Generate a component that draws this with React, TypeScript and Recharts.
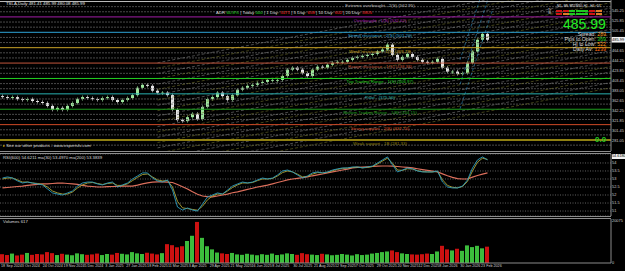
import React from 'react';
import { ComposedChart, Bar, Line, XAxis, YAxis, ReferenceLine, CartesianGrid, Cell } from 'recharts';

const FONT = '"Liberation Sans", Arial, sans-serif';

// closing prices, one bar per ~2.5 sessions
const closes = [
  369, 367, 369, 365, 363, 365, 361, 359, 357, 351,
  343, 347, 343, 351, 357, 365, 369, 367, 365, 363,
  367, 369, 363, 359, 363, 367, 373, 388, 394, 392,
  382, 378, 378, 373, 343, 322, 320, 328, 335, 324,
  349, 365, 369, 378, 371, 363, 373, 384, 388, 392,
  394, 398, 400, 404, 404, 404, 412, 425, 429, 425,
  418, 412, 425, 431, 429, 435, 439, 441, 441, 445,
  449, 451, 453, 455, 457, 462, 466, 476, 455, 445,
  451, 457, 451, 445, 441, 439, 441, 447, 429, 421,
  421, 416, 418, 439, 462, 486, 498, 486,
];
const FIRST_OPEN = 371;

// oscillator pane
const fastLine = [
  53.06, 53.13, 53.06, 52.88, 52.75, 52.81, 52.75, 52.69, 52.63, 52.38,
  52.13, 52.06, 52.0, 52.13, 52.25, 52.56, 52.75, 52.81, 52.81, 52.69,
  52.63, 52.75, 52.81, 52.5, 52.63, 52.75, 53.0, 53.19, 53.38, 53.38,
  53.06, 52.88, 52.81, 52.94, 52.31, 51.25, 51.06, 51.19, 51.06, 51.0,
  51.44, 51.88, 52.0, 52.13, 52.06, 52.31, 52.56, 52.69, 52.81, 52.75,
  52.81, 52.94, 53.06, 53.0, 53.06, 53.25, 53.5, 53.56, 53.44, 53.25,
  53.06, 53.19, 53.38, 53.44, 53.38, 53.44, 53.56, 53.63, 53.69, 53.69,
  53.75, 53.75, 53.69, 53.75, 53.81, 54.0, 54.19, 54.38, 53.88, 53.44,
  53.56, 53.69, 53.63, 53.5, 53.44, 53.44, 53.44, 53.5, 52.81, 52.5,
  52.44, 52.44, 52.56, 52.94, 53.69, 54.19, 54.38, 54.19,
];
const signalLine = [
  53.0, 53.06, 53.06, 52.94, 52.81, 52.81, 52.75, 52.72, 52.66, 52.5,
  52.25, 52.13, 52.06, 52.06, 52.19, 52.44, 52.63, 52.75, 52.78, 52.72,
  52.66, 52.72, 52.75, 52.6, 52.6, 52.7, 52.9, 53.1, 53.28, 53.31,
  53.13, 52.94, 52.88, 52.9, 52.5, 51.6, 51.2, 51.15, 51.1, 51.05,
  51.3, 51.7, 51.94, 52.06, 52.06, 52.25, 52.47, 52.63, 52.75, 52.75,
  52.78, 52.9, 53.0, 53.0, 53.03, 53.19, 53.4, 53.5, 53.44, 53.3,
  53.13, 53.16, 53.3, 53.4, 53.38, 53.42, 53.52, 53.6, 53.66, 53.68,
  53.72, 53.74, 53.7, 53.72, 53.78, 53.94, 54.12, 54.3, 53.98, 53.56,
  53.54, 53.64, 53.62, 53.52, 53.46, 53.44, 53.44, 53.48, 52.95, 52.6,
  52.48, 52.45, 52.53, 52.85, 53.5, 54.05, 54.3, 54.22,
];
const slowLine = [
  52.44, 52.47, 52.5, 52.53, 52.56, 52.6, 52.63, 52.66, 52.69, 52.7,
  52.72, 52.74, 52.75, 52.72, 52.69, 52.66, 52.6, 52.56, 52.53, 52.5,
  52.5, 52.52, 52.53, 52.54, 52.55, 52.56, 52.56, 52.62, 52.7, 52.76,
  52.81, 52.82, 52.82, 52.81, 52.78, 52.66, 52.52, 52.38, 52.2, 52.05,
  51.94, 51.9, 51.88, 51.94, 52.0, 52.06, 52.14, 52.2, 52.27, 52.35,
  52.42, 52.5, 52.56, 52.62, 52.7, 52.78, 52.86, 52.94, 53.0, 53.04,
  53.08, 53.13, 53.2, 53.26, 53.31, 53.38, 53.44, 53.5, 53.56, 53.62,
  53.69, 53.72, 53.74, 53.76, 53.78, 53.8, 53.81, 53.81, 53.8, 53.78,
  53.75, 53.72, 53.69, 53.64, 53.59, 53.54, 53.49, 53.44, 53.32, 53.2,
  53.1, 53.02, 53.0, 53.0, 53.12, 53.22, 53.3, 53.38,
];

const volumes = [
  4200, 3800, 4500, 3600, 4000, 4800, 3900, 4300, 4100, 5200,
  4700, 3800, 4400, 4000, 3700, 4600, 4200, 3900, 4100, 4500,
  3800, 4300, 4000, 4800, 4400, 4100, 5200, 4600, 4300, 4900,
  4500, 4100, 4700, 9000, 8500, 7500, 8000, 10500, 13000, 19600,
  12000, 8000, 6500, 5000, 4600, 4300, 4800, 4100, 3900, 4400,
  4000, 3700, 4200, 3900, 4500, 3800, 4100, 4600, 4300, 3900,
  4700, 4200, 4000, 3800, 4400, 4100, 3700, 3900, 4300, 4000,
  3600, 4200, 3800, 4000, 4500, 4800, 5200, 5500, 6000, 5200,
  4600, 4300, 4100, 4000, 4200, 4500, 4300, 5500, 8200, 6500,
  6000, 6800, 5800, 8400, 7600, 8200, 7000, 7800,
];

const dateLabels = [
  '18 Sep 2024', '3 Oct 2024', '24 Oct 2024', '19 Nov 2024', '5 Dec 2024', '3 Jan 2025',
  '27 Jan 2025', '18 Feb 2025', '11 Mar 2025', '3 Apr 2025', '29 Apr 2025', '21 May 2025',
  '16 Jun 2025', '8 Jul 2025', '30 Jul 2025', '21 Aug 2025', '12 Sep 2025', '7 Oct 2025',
  '29 Oct 2025', '20 Nov 2025', '12 Dec 2025', '8 Jan 2026', '30 Jan 2026', '23 Feb 2026',
];

const levelPrices = [564.0, 532.6, 501.2, 469.8, 438.4, 407.0, 375.6, 344.2, 312.8, 281.4];
const levelNames = [
  'Extreme overbought - 2(S) (562.95)',
  'Overbought - 1(S) (532.62)',
  'Strong resistance - 2(S) (501.20)',
  'Weak resistance - 1(S) (469.79)',
  'Range resistance - 1(S) (438.38)',
  'Top Trading Range - 1(S) (406.97)',
  'Pivot - (375.56)',
  'Bottom Trading Range - 1(B) (344.15)',
  'Strong support - 2(B) (312.74)',
  'Weak support - 1B (281.33)',
];
const levelColors = ['#bdbdbd', '#a21ea8', '#2ea3d6', '#c9a227', '#c2553c', '#22d022', '#28b0b0', '#1e9e1e', '#cf4a26', '#8f8012'];

const priceTicks = [545.25, 525.85, 505.45, 464.65, 444.25, 423.85, 403.45, 383.05, 362.65, 342.25, 321.85, 301.45, 281.05];
const oscTicks = [51, 51.5, 52, 52.5, 53, 53.5, 54];
const volTicks = [0, 20075];
const LAST_PRICE = '485.99';

// regression fan anchored at bar 31
const fanStart = 31;
const fanTop = 439;
const fanStep = 10.85;
const fanSlope = 1.95;
const fanCount = 22;
// steep channel over the last rally
const rallyStart = 91.5;
const rallyEnd = 98;
const rallyBase = 395;
const rallySlope = 31;
const rallyOffsets = [-50, 0, 50];

const X_DOMAIN: [number, number] = [-0.5, 121.7];
const UP = '#9ee89e';
const DOWN = '#e4e4e4';
const VOL_UP = '#3cbc3c';
const VOL_DOWN = '#cc1111';

const rows = closes.map((close, i) => {
  const open = i === 0 ? FIRST_OPEN : closes[i - 1];
  return {
    i,
    body: [Math.min(open, close), Math.max(open, close)],
    up: close >= open,
    fast: fastLine[i],
    signal: signalLine[i],
    slow: slowLine[i],
    vol: volumes[i],
  };
});

const dateTicks = dateLabels.map((_, k) => -0.3 + k * 4.174);

const subLevels: number[] = [];
for (let k = 0; k < levelPrices.length - 1; k++) {
  const gap = (levelPrices[k] - levelPrices[k + 1]) / 3;
  subLevels.push(levelPrices[k + 1] + gap, levelPrices[k + 1] + 2 * gap);
}
subLevels.push(levelPrices[levelPrices.length - 1] - 10.47);

function Candle(props: any) {
  const { x, y, width, height, payload } = props;
  if (x == null || y == null) return null;
  const color = payload.up ? UP : DOWN;
  const h = Math.max(height || 0, 0.8);
  const cx = x + width / 2;
  return (
    <g>
      <line x1={cx} x2={cx} y1={y - 1.6} y2={y + h + 1.6} stroke={color} strokeWidth={0.6} />
      <rect x={x} y={y} width={width} height={h} fill={color} />
    </g>
  );
}

const LevelLabel = (props: any) => {
  const { viewBox, text, color } = props;
  if (!viewBox) return null;
  return (
    <text x={viewBox.x + 380} y={viewBox.y + 5} fill={color} fontSize={4.4} textAnchor="middle" fontFamily={FONT}>
      {text}
    </text>
  );
};

const PriceBox = (props: any) => {
  const { viewBox, text } = props;
  if (!viewBox) return null;
  const x = viewBox.x + viewBox.width + 0.5;
  return (
    <g>
      <rect x={x} y={viewBox.y - 2.8} width={13.5} height={5.6} fill="#f2f2f2" />
      <text x={x + 6.7} y={viewBox.y + 1.4} fontSize={4} textAnchor="middle" fill="#000" fontFamily={FONT}>
        {text}
      </text>
    </g>
  );
};

const DateTick = (props: any) => {
  const { x, y, payload } = props;
  const label = dateLabels[Math.round((payload.value + 0.3) / 4.174)];
  return (
    <text x={x} y={y + 4.2} fontSize={3.7} fill="#cfcfcf" textAnchor="start" fontFamily={FONT}>
      {label}
    </text>
  );
};

const axisTick = { fill: '#cfcfcf', fontSize: 3.9, fontFamily: FONT };

const txt = (left: number, top: number, size: number, color: string, extra: React.CSSProperties = {}): React.CSSProperties => ({
  position: 'absolute', left, top, fontSize: size, color, lineHeight: 1, whiteSpace: 'nowrap', fontFamily: FONT, ...extra,
});

const tfNames = ['M1', 'M5', 'M15', 'M30', 'H1', 'H4', 'D1'];
const tfRow1 = ['#d01515', '#d01515', '#1fc81f', '#1fc81f', '#1fc81f', '#d01515', '#e07a2a'];
const tfRow2 = ['#d01515', '#e07a2a', '#1fc81f', '#1fc81f', '#1fc81f', '#d01515', '#e07a2a'];

export default function App() {
  return (
    <div style={{ position: 'fixed', left: 0, top: 0, width: 625, height: 271, background: '#000', overflow: 'hidden', fontFamily: FONT }}>
      {/* price pane */}
      <div style={{ position: 'absolute', left: 0, top: 0 }}>
        <ComposedChart width={625} height={151} data={rows} margin={{ top: 0, right: 0, bottom: 0, left: 0 }}>
          <XAxis dataKey="i" type="number" domain={X_DOMAIN} hide allowDataOverflow />
          <YAxis
            orientation="right"
            domain={[259, 567.1]}
            ticks={priceTicks}
            width={14}
            tick={axisTick}
            tickLine={false}
            tickSize={0}
            tickMargin={1}
            axisLine={{ stroke: '#8a8a8a' }}
            tickFormatter={(v: number) => v.toFixed(2)}
            interval={0}
            allowDataOverflow
          />
          {subLevels.map((p, k) => (
            <ReferenceLine key={'s' + k} y={p} stroke="#5c5c5c" strokeWidth={0.8} strokeDasharray="2 1" ifOverflow="hidden" />
          ))}
          {Array.from({ length: fanCount }, (_, k) => {
            const p0 = fanTop - k * fanStep;
            return (
              <ReferenceLine
                key={'f' + k}
                segment={[{ x: fanStart, y: p0 }, { x: X_DOMAIN[1], y: p0 + fanSlope * (X_DOMAIN[1] - fanStart) }]}
                stroke={k % 2 ? '#6e6e2c' : '#7c7c7c'}
                strokeWidth={0.6}
                strokeDasharray="3 2"
                ifOverflow="hidden"
              />
            );
          })}
          {rallyOffsets.map((o, k) => (
            <ReferenceLine
              key={'r' + k}
              segment={[{ x: rallyStart, y: rallyBase + o }, { x: rallyEnd, y: rallyBase + o + rallySlope * (rallyEnd - rallyStart) }]}
              stroke="#2c8fc4"
              strokeWidth={0.6}
              strokeDasharray="3 2"
              ifOverflow="hidden"
            />
          ))}
          {levelPrices.map((p, k) => (
            <ReferenceLine
              key={'l' + k}
              y={p}
              stroke={levelColors[k]}
              strokeWidth={k === levelPrices.length - 1 ? 2 : 1}
              ifOverflow="hidden"
              label={<LevelLabel text={levelNames[k]} color={levelColors[k]} />}
            />
          ))}
          <Bar dataKey="body" barSize={3} isAnimationActive={false} shape={(p: any) => <Candle {...p} />} />
          <ReferenceLine y={485.99} stroke="none" ifOverflow="visible" label={<PriceBox text={LAST_PRICE} />} />
        </ComposedChart>
      </div>

      {/* pane borders */}
      <div style={{ position: 'absolute', left: 0, top: 151, width: 611, height: 1, background: '#8c8c8c' }} />
      <div style={{ position: 'absolute', left: 0, top: 153, width: 611, height: 1, background: '#8c8c8c' }} />
      <div style={{ position: 'absolute', left: 0, top: 216, width: 611, height: 1, background: '#8c8c8c' }} />
      <div style={{ position: 'absolute', left: 0, top: 218, width: 611, height: 1, background: '#8c8c8c' }} />

      {/* oscillator pane */}
      <div style={{ position: 'absolute', left: 0, top: 154 }}>
        <ComposedChart width={625} height={62} data={rows} margin={{ top: 0, right: 0, bottom: 0, left: 0 }}>
          <XAxis dataKey="i" type="number" domain={X_DOMAIN} hide allowDataOverflow />
          <YAxis
            orientation="right"
            domain={[50.69, 54.56]}
            ticks={oscTicks}
            width={14}
            tick={axisTick}
            tickLine={false}
            tickSize={0}
            tickMargin={1}
            axisLine={{ stroke: '#8a8a8a' }}
            interval={0}
            allowDataOverflow
          />
          <CartesianGrid vertical={false} stroke="#8a8a8a" strokeDasharray="1 1.5" strokeWidth={0.7} />
          <Line dataKey="slow" stroke="#dc6f5c" strokeWidth={1.2} dot={false} isAnimationActive={false} />
          <Line dataKey="signal" stroke="#aea437" strokeWidth={0.9} dot={false} isAnimationActive={false} />
          <Line dataKey="fast" stroke="#2c9cc0" strokeWidth={0.9} dot={false} isAnimationActive={false} />
        </ComposedChart>
      </div>

      {/* volume pane */}
      <div style={{ position: 'absolute', left: 0, top: 219 }}>
        <ComposedChart width={625} height={52} data={rows} margin={{ top: 0, right: 0, bottom: 0, left: 0 }}>
          <XAxis
            dataKey="i"
            type="number"
            domain={X_DOMAIN}
            ticks={dateTicks}
            tick={<DateTick />}
            height={8}
            tickLine={false}
            tickSize={0}
            tickMargin={0}
            axisLine={{ stroke: '#8a8a8a' }}
            interval={0}
            allowDataOverflow
          />
          <YAxis
            orientation="right"
            domain={[0, 21000]}
            ticks={volTicks}
            width={14}
            tick={axisTick}
            tickLine={false}
            tickSize={0}
            tickMargin={1}
            axisLine={{ stroke: '#8a8a8a' }}
            interval={0}
          />
          <Bar dataKey="vol" barSize={4} isAnimationActive={false}>
            {rows.map((r) => (
              <Cell key={r.i} fill={r.up ? VOL_UP : VOL_DOWN} />
            ))}
          </Bar>
        </ComposedChart>
      </div>

      {/* captions */}
      <div style={txt(6, 1.5, 4.3, '#e0e0e0')}>TSLA,Daily  481.41 485.99 480.08 485.99</div>
      <div style={txt(216, 11, 4.4, '#d8d8d8')}>
        ADR <span style={{ color: '#22dd22' }}>60.8%</span> | Today <span style={{ color: '#22dd22' }}>000</span> | 1 Day:{' '}
        <span style={{ color: '#ff2020' }}>5471</span> | 5 Day: <span style={{ color: '#ff2020' }}>658</span> | 10 Day:{' '}
        <span style={{ color: '#ff2020' }}>602</span> | 20 Day: <span style={{ color: '#ff2020' }}>5805</span>
      </div>
      <div style={txt(3, 144, 4.3, '#dcdcdc')}>
        <span style={{ color: '#d8b000' }}>&#9656;</span> See our other products - www.expertsfx.com
      </div>
      <div style={txt(3, 155.5, 4.3, '#dcdcdc')}>RSI(600) 54.6211 ma(30) 53.4970 ma(200) 53.3839</div>
      <div style={txt(3, 220, 4.3, '#dcdcdc')}>Volumes 617</div>
      <div style={txt(595, 136, 8, '#22cc22', { fontWeight: 'bold' })}>0.0</div>
      <div style={{ position: 'absolute', left: 611.5, top: 154, width: 13.5, height: 5, background: '#f2f2f2' }} />
      <div style={txt(612, 154.6, 3.8, '#000')}>54.6180</div>

      {/* info panel */}
      <div style={{ position: 'absolute', left: 556, top: 5, display: 'flex' }}>
        {tfNames.map((n) => (
          <div key={n} style={{ width: 6.6, fontSize: 3.2, color: '#e0e0e0', textAlign: 'center', lineHeight: 1 }}>{n}</div>
        ))}
      </div>
      {[tfRow1, tfRow2].map((row, r) => (
        <div key={r} style={{ position: 'absolute', left: 556, top: 9.5 + r * 3, display: 'flex' }}>
          {row.map((c, k) => (
            <div key={k} style={{ width: 6, height: 2.4, marginRight: 0.6, background: c }} />
          ))}
        </div>
      ))}
      <div style={txt(548, 9, 3.4, '#e0e0e0')}>Tr</div>
      <div style={txt(548, 12.2, 3.4, '#e0e0e0')}>St</div>
      <div style={txt(563, 17, 14, '#22ee22')}>{LAST_PRICE}</div>
      <div style={{ position: 'absolute', right: 19, top: 31.5, textAlign: 'right', fontSize: 5.2, lineHeight: '5px', color: '#d8d8d8', fontFamily: FONT, whiteSpace: 'nowrap' }}>
        <div>Spread: <span style={{ color: '#ff9a1a' }}>289</span></div>
        <div>Pips to Open: <span style={{ color: '#22dd22' }}>369</span></div>
        <div>Hi to Low: <span style={{ color: '#ff9a1a' }}>522</span></div>
        <div>Daily Av: <span style={{ color: '#ff6a10' }}>1239</span></div>
      </div>
    </div>
  );
}
